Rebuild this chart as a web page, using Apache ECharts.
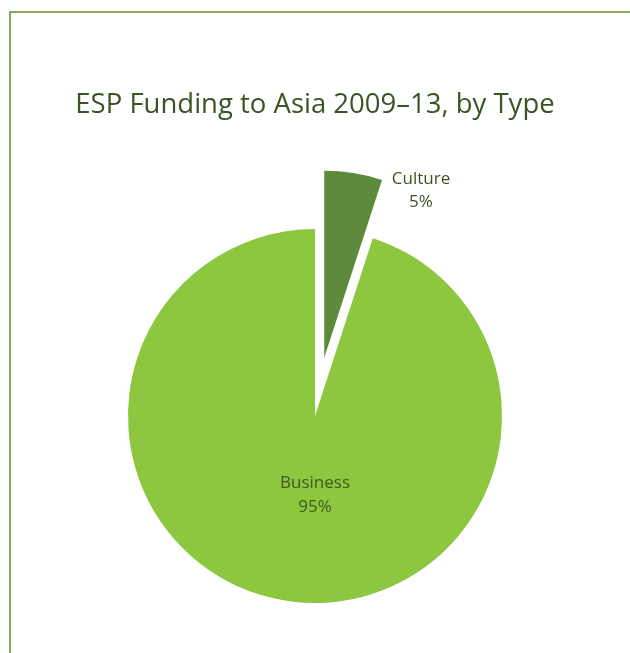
<!DOCTYPE html>
<html>
<head>
<meta charset="utf-8">
<script src="https://cdn.jsdelivr.net/npm/echarts@6/dist/echarts.min.js"></script>
<style>
  html, body { margin: 0; padding: 0; background: #ffffff; }
  #chart { width: 630px; height: 653px; }
</style>
</head>
<body>
<div id="chart"></div>
<script>
// Funding by type, in percent
const categories = ['Culture', 'Business'];
const shares = [5, 95];
const sliceColors = ['#5e8a3b', '#8dc63f'];
const labelColors = ['#3a5424', '#3d5a1e'];

const chart = echarts.init(document.getElementById('chart'), null, { renderer: 'canvas' });

const textFont = '"Open Sans", "Noto Sans", sans-serif';
const labelText = i => categories[i] + '\n' + shares[i] + '%';

chart.setOption({
  backgroundColor: '#ffffff',
  animation: false,
  title: {
    text: 'ESP Funding to Asia 2009\u201313, by Type',
    left: 'center',
    top: 86,
    textStyle: {
      color: '#3a5424',
      fontFamily: textFont,
      fontWeight: 'normal',
      fontSize: 27.5
    }
  },
  graphic: [
    {
      type: 'polyline',
      silent: true,
      shape: { points: [[10, 653], [10, 12], [630, 12]] },
      style: { stroke: '#5f8f35', lineWidth: 1.5, fill: null }
    },
    // caption for the pulled-out slice, set beside it
    {
      type: 'text',
      silent: true,
      x: 421,
      y: 191,
      style: {
        text: labelText(0),
        align: 'center',
        verticalAlign: 'middle',
        fill: labelColors[0],
        font: '17px ' + textFont,
        lineHeight: 23
      }
    }
  ],
  series: [{
    type: 'pie',
    center: [315, 416],
    radius: [0, 187],
    startAngle: 90,
    clockwise: true,
    selectedMode: 'multiple',
    selectedOffset: 59,
    avoidLabelOverlap: false,
    itemStyle: { borderWidth: 0 },
    emphasis: { disabled: true },
    labelLine: { show: false },
    label: {
      show: true,
      position: 'inside',
      formatter: p => labelText(p.dataIndex),
      fontFamily: textFont,
      fontSize: 17,
      lineHeight: 24,
      align: 'center',
      verticalAlign: 'middle'
    },
    labelLayout: p => (p.dataIndex === 1
      ? { x: 315, y: 495, align: 'center', verticalAlign: 'middle' }
      : {}),
    data: categories.map((name, i) => ({
      name,
      value: shares[i],
      selected: i === 0,
      itemStyle: { color: sliceColors[i] },
      label: { show: i === 1, color: labelColors[i] }
    }))
  }]
});
</script>
</body>
</html>
